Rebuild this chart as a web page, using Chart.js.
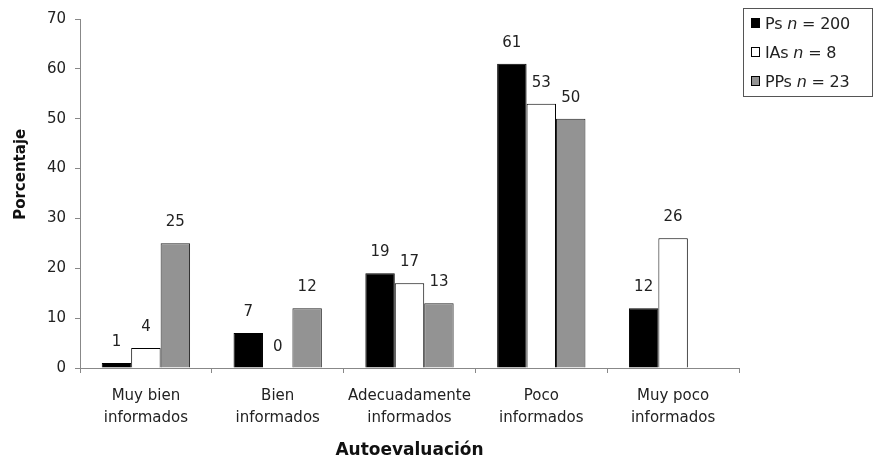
<!DOCTYPE html>
<html>
<head>
<meta charset="utf-8">
<script src="https://cdn.jsdelivr.net/npm/chart.js@4"></script>
<style>
  html, body { margin: 0; padding: 0; background: #fff; }
  #wrap { position: relative; width: 876px; height: 461px; }
  #legend {
    position: absolute; left: 743px; top: 8px; width: 130px; height: 89px;
    border: 1px solid #555; box-sizing: border-box; padding: 0 0 0 7px;
    font-family: "DejaVu Sans", Verdana, sans-serif; font-size: 16px; color: #222;
  }
  #legend div { height: 29px; line-height: 29px; white-space: nowrap; letter-spacing: -0.2px; }
  #legend span.sw {
    display: inline-block; width: 7px; height: 8px; border: 1px solid #000;
    margin-right: 5px; vertical-align: 1px;
  }
</style>
</head>
<body>
<div id="wrap">
  <canvas id="c" width="876" height="461"></canvas>
  <div id="legend"></div>
</div>
<script>
// Autoevaluación del nivel de información, por grupo
const categories = [
  ["Muy bien", "informados"],
  ["Bien", "informados"],
  ["Adecuadamente", "informados"],
  ["Poco", "informados"],
  ["Muy poco", "informados"]
];
const groupNames = ["Ps", "IAs", "PPs"];
const groupSizes = [200, 8, 23];
const psValues  = [1, 7, 19, 61, 12];
const iasValues = [4, 0, 17, 53, 26];
const ppsValues = [25, 12, 13, 50, null];
const yTicks = [0, 10, 20, 30, 40, 50, 60, 70];
const yTitle = "Porcentaje";

const FONT = "'DejaVu Sans', Verdana, sans-serif";
const fills = ["#000000", "#ffffff", "#939393"];

// legend with italic n
const legendEl = document.getElementById("legend");
legendEl.innerHTML = groupNames.map((g, i) =>
  `<div><span class="sw" style="background:${fills[i]}"></span>${g} <i>n</i> = ${groupSizes[i]}</div>`
).join("");

// numbers over each bar + y title (sits a bit above the middle)
const barLabels = {
  id: "barLabels",
  afterDatasetsDraw(chart) {
    const ctx = chart.ctx;
    ctx.save();
    ctx.font = "15px " + FONT;
    ctx.fillStyle = "#222";
    ctx.textAlign = "center";
    ctx.textBaseline = "middle";
    chart.data.datasets.forEach((ds, di) => {
      const meta = chart.getDatasetMeta(di);
      meta.data.forEach((bar, i) => {
        const v = ds.data[i];
        if (v === null || v === undefined) return;
        ctx.fillText(String(v), bar.x, bar.y - 21);
      });
    });
    ctx.restore();
  },
  afterDraw(chart) {
    const ctx = chart.ctx;
    const a = chart.chartArea;
    ctx.save();
    ctx.translate(21, a.top + (a.bottom - a.top) * 0.445);
    ctx.rotate(-Math.PI / 2);
    ctx.font = "bold 15px " + FONT;
    ctx.fillStyle = "#111";
    ctx.textAlign = "center";
    ctx.textBaseline = "middle";
    ctx.fillText(yTitle, 0, 0);
    ctx.restore();
  }
};

new Chart(document.getElementById("c"), {
  type: "bar",
  data: {
    labels: categories,
    datasets: [
      { label: "Ps", data: psValues, backgroundColor: fills[0], borderColor: "#000", borderWidth: 1 },
      { label: "IAs", data: iasValues, backgroundColor: fills[1], borderColor: "#000", borderWidth: 1 },
      { label: "PPs", data: ppsValues, backgroundColor: fills[2], borderColor: "#222", borderWidth: 1 }
    ]
  },
  options: {
    responsive: false,
    animation: false,
    events: [],
    layout: { padding: { top: 19, right: 137, left: 0, bottom: 0 } },
    datasets: { bar: { categoryPercentage: 0.67, barPercentage: 1.0 } },
    plugins: { legend: { display: false }, tooltip: { enabled: false } },
    scales: {
      x: {
        afterFit: (s) => { s.height = 93; },
        grid: { display: true, drawOnChartArea: false, offset: true, color: "#888", tickLength: 5 },
        border: { color: "#888", width: 1 },
        ticks: { color: "#222", font: { family: FONT, size: 15, lineHeight: 1.45 }, maxRotation: 0, padding: 12 },
        title: { display: true, text: "Autoevaluación", color: "#111", font: { family: FONT, size: 17, weight: "bold" }, padding: { top: 4, bottom: 0 } }
      },
      y: {
        min: 0, max: 70,
        afterBuildTicks: (s) => { s.ticks = yTicks.map(v => ({ value: v })); },
        afterFit: (s) => { s.width = 80; },
        grid: { display: true, drawOnChartArea: false, color: "#888", tickLength: 5 },
        border: { color: "#888", width: 1 },
        ticks: { color: "#222", font: { family: FONT, size: 15 }, padding: 9 },
        title: { display: false }
      }
    }
  },
  plugins: [barLabels]
});
</script>
</body>
</html>
